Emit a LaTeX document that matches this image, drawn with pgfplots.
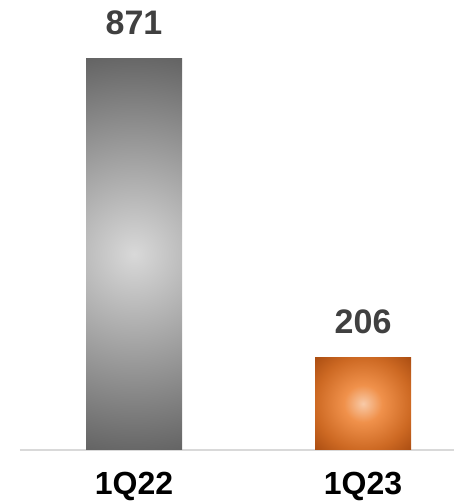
\documentclass[border=0pt]{standalone}
\usepackage{pgfplots}
\pgfplotsset{compat=1.18}
\usepackage{fontspec}
\setmainfont{Liberation Sans}
\definecolor{valtext}{RGB}{64,64,64}
\definecolor{axisgray}{RGB}{217,217,217}
\definecolor{orC0}{RGB}{248,202,168}
\definecolor{orC1}{RGB}{240,145,75}
\definecolor{orC2}{RGB}{205,105,35}
\definecolor{orC3}{RGB}{172,78,18}
\pgfdeclareradialshading{orangeglow}{\pgfpoint{0bp}{0bp}}{color(0bp)=(orC0); color(10bp)=(orC1); color(25bp)=(orC2); color(35bp)=(orC3); color(50bp)=(orC3)}
\pgfdeclarefunctionalshading{grayglow}{\pgfpoint{-50bp}{-50bp}}{\pgfpoint{50bp}{50bp}}{}{
  25 div 196 mul dup mul exch 25 div 48 mul dup mul add sqrt 202 div
  dup 1 gt {pop 1} if
  0.46 mul 0.85 exch sub dup dup
}
\begin{document}
\begin{tikzpicture}
\path[use as bounding box] (0,0) rectangle (454pt,502pt);
\begin{axis}[
  at={(20pt,52pt)}, anchor=south west,
  scale only axis, width=434pt, height=450pt,
  xmin=-0.4978, xmax=1.397, ymin=0, ymax=1000,
  axis x line=bottom, axis y line=none,
  x axis line style={-, draw=axisgray, line width=1.5pt},
  xtick={0,1}, xticklabels={1Q22,1Q23}, ytick=\empty,
  major tick length=0pt,
  xticklabel style={anchor=base, yshift=-45pt, inner sep=0pt, font=\fontsize{32}{38}\selectfont\bfseries, text=black},
  /pgf/number format/assume math mode=true,
  nodes near coords,
  every node near coord/.append style={anchor=south, inner sep=0pt, yshift=23pt, font=\fontsize{34}{40}\selectfont\bfseries, text=valtext},
  clip=false,
]
\addplot[ybar, bar width=96pt, bar shift=0pt, draw=none, shading=grayglow] coordinates {(0,871)};
\addplot[ybar, bar width=96pt, bar shift=0pt, draw=none, shading=orangeglow] coordinates {(1,206)};
\end{axis}
\end{tikzpicture}
\end{document}
